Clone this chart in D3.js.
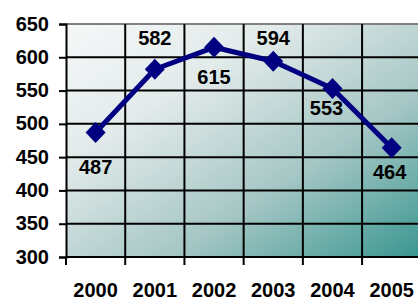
<!DOCTYPE html>
<html>
<head>
<meta charset="utf-8">
<script src="https://cdn.jsdelivr.net/npm/d3@7"></script>
<style>
  body { margin: 0; background: #fff; }
  svg text { font-family: "Liberation Sans", Arial, sans-serif; font-weight: bold; font-size: 20px; fill: #000; }
</style>
</head>
<body>
<svg width="418" height="300"></svg>
<script>
// data
var years = ["2000", "2001", "2002", "2003", "2004", "2005"];
var values = [487, 582, 615, 594, 553, 464];
var yTicks = [300, 350, 400, 450, 500, 550, 600, 650];

// where each value label sits relative to its point (dx, dy of baseline)
var labelOffset = [[0, 41], [0, -24], [0, 37], [0, -16], [-6, 26], [-2, 31]];

var svg = d3.select("svg");
var plotLeft = 66, plotRight = 421.3, plotTop = 24, plotBottom = 257;

var x = d3.scaleBand().domain(years).range([plotLeft, plotRight]).padding(0);
var y = d3.scaleLinear().domain([300, 650]).range([plotBottom, plotTop]);

// background gradient
var grad = svg.append("defs").append("linearGradient")
    .attr("id", "bg").attr("x1", "0%").attr("y1", "0%").attr("x2", "100%").attr("y2", "100%");
grad.append("stop").attr("offset", "0%").attr("stop-color", "#f6f8f8");
grad.append("stop").attr("offset", "30%").attr("stop-color", "#e2eaea");
grad.append("stop").attr("offset", "65%").attr("stop-color", "#a4c6c4");
grad.append("stop").attr("offset", "100%").attr("stop-color", "#3a9690");

svg.append("rect")
    .attr("x", plotLeft).attr("y", plotTop)
    .attr("width", plotRight - plotLeft).attr("height", plotBottom - plotTop)
    .attr("fill", "url(#bg)");

// horizontal grid
svg.selectAll("line.hgrid")
    .data(yTicks.slice(1, -1))
  .enter().append("line")
    .attr("class", "hgrid")
    .attr("x1", plotLeft).attr("x2", plotRight)
    .attr("y1", function(d) { return y(d); })
    .attr("y2", function(d) { return y(d); })
    .attr("stroke", "#000").attr("stroke-width", 2);

// top border line at 650 is gray
svg.append("line")
    .attr("x1", plotLeft).attr("x2", plotRight)
    .attr("y1", y(650)).attr("y2", y(650))
    .attr("stroke", "#808080").attr("stroke-width", 2);

// vertical grid at the band edges
var edges = years.map(function(d) { return x(d); }).concat([plotRight]);
svg.selectAll("line.vgrid")
    .data(edges.slice(1))
  .enter().append("line")
    .attr("class", "vgrid")
    .attr("x1", function(d) { return d; })
    .attr("x2", function(d) { return d; })
    .attr("y1", plotTop).attr("y2", plotBottom)
    .attr("stroke", "#000").attr("stroke-width", 2);

// x tick marks below the axis
svg.selectAll("line.xtick")
    .data(edges)
  .enter().append("line")
    .attr("class", "xtick")
    .attr("x1", function(d) { return d; })
    .attr("x2", function(d) { return d; })
    .attr("y1", plotBottom).attr("y2", plotBottom + 8)
    .attr("stroke", "#000").attr("stroke-width", 2);

// y axis
var yAxis = svg.append("g")
    .attr("transform", "translate(" + plotLeft + ",0)")
    .call(d3.axisLeft(y).tickValues(yTicks).tickSize(7).tickPadding(10));
yAxis.select(".domain").attr("stroke", "#000").attr("stroke-width", 2);
yAxis.selectAll(".tick line").attr("stroke", "#000").attr("stroke-width", 2);
yAxis.selectAll(".tick text")
    .attr("dy", "0.3em");
yAxis.attr("font-size", null).attr("font-family", null);

// x axis line
svg.append("line")
    .attr("x1", plotLeft).attr("x2", plotRight)
    .attr("y1", plotBottom).attr("y2", plotBottom)
    .attr("stroke", "#000").attr("stroke-width", 2);

// x labels
svg.selectAll("text.xlab")
    .data(years)
  .enter().append("text")
    .attr("class", "xlab")
    .attr("x", function(d) { return x(d) + x.bandwidth() / 2; })
    .attr("y", 297)
    .attr("text-anchor", "middle")
    .text(function(d) { return d; });

// line
var line = d3.line()
    .x(function(d, i) { return x(years[i]) + x.bandwidth() / 2; })
    .y(function(d) { return y(d); });

svg.append("path")
    .datum(values)
    .attr("d", line)
    .attr("fill", "none")
    .attr("stroke", "#000080")
    .attr("stroke-width", 5)
    .attr("stroke-linejoin", "round");

// diamond markers
svg.selectAll("path.marker")
    .data(values)
  .enter().append("path")
    .attr("class", "marker")
    .attr("d", "M0,-10.5L10,0L0,10.5L-10,0Z")
    .attr("transform", function(d, i) {
      return "translate(" + (x(years[i]) + x.bandwidth() / 2) + "," + y(d) + ")";
    })
    .attr("fill", "#000080");

// value labels
svg.selectAll("text.vlab")
    .data(values)
  .enter().append("text")
    .attr("class", "vlab")
    .attr("x", function(d, i) { return x(years[i]) + x.bandwidth() / 2 + labelOffset[i][0]; })
    .attr("y", function(d, i) { return y(d) + labelOffset[i][1]; })
    .attr("text-anchor", "middle")
    .text(function(d) { return d; });
</script>
</body>
</html>
